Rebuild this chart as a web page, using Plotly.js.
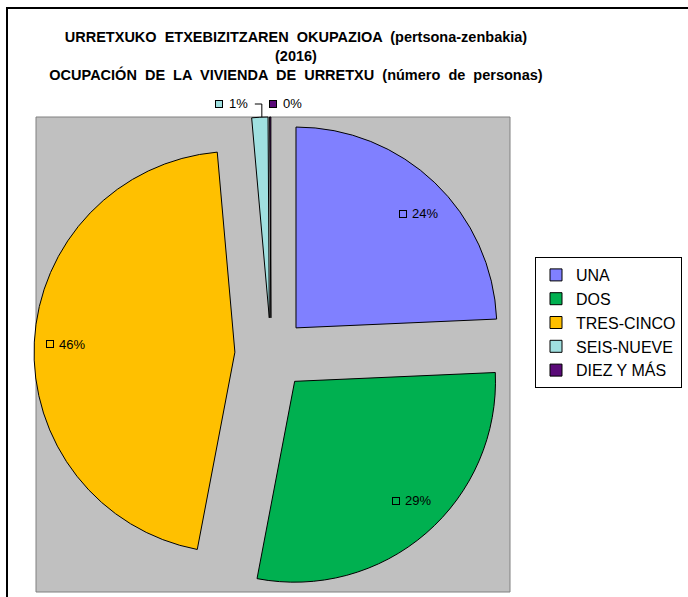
<!DOCTYPE html>
<html>
<head>
<meta charset="utf-8">
<script src="https://cdn.plot.ly/plotly-3.0.1.min.js"></script>
<style>html,body{margin:0;padding:0;background:#fff;}#chart{width:688px;height:597px;}</style>
</head>
<body>
<div id="chart"></div>
<script>
const categories = ["UNA", "DOS", "TRES-CINCO", "SEIS-NUEVE", "DIEZ Y MÁS"];
const shares = [24.3, 28.7, 45.6, 1.3, 0.1];
const sliceColors = ["#8080FF", "#00B050", "#FFC000", "#A0E0E0", "#5A0A78"];
const labelOutside = [false, false, false, true, true];
const titleText = "URRETXUKO  ETXEBIZITZAREN  OKUPAZIOA  (pertsona-zenbakia)<br>(2016)<br>OCUPACIÓN  DE  LA  VIVIENDA  DE  URRETXU  (número  de  personas)";

const W = 688, H = 597;
const px = x => x / W;
const py = y => 1 - y / H;

// pie geometry (layout)
const dom = { x0: 34, x1: 508, y0: 117, y1: 591 };
const pullFrac = 0.18;
const cx = (dom.x0 + dom.x1) / 2, cy = (dom.y0 + dom.y1) / 2;
const R = Math.min(dom.x1 - dom.x0, dom.y1 - dom.y0) / 2 / (1 + pullFrac);
const edge = R * (1 + pullFrac);

const trace = {
  type: "pie",
  labels: categories,
  values: shares,
  sort: false,
  direction: "clockwise",
  rotation: 0,
  pull: categories.map(() => pullFrac),
  marker: { colors: sliceColors, line: { color: "#000", width: 1 } },
  textinfo: "none",
  domain: { x: [px(dom.x0), px(dom.x1)], y: [py(dom.y1), py(dom.y0)] },
  hoverinfo: "label+percent"
};

const lblFont = { family: "Liberation Sans, Arial, sans-serif", size: 13, color: "#000" };
const annotations = [];
const shapes = [
  { type: "rect", xref: "paper", yref: "paper", layer: "below",
    x0: px(36), x1: px(510), y0: py(592), y1: py(117),
    fillcolor: "#C0C0C0", line: { color: "#808080", width: 1 } },
  { type: "rect", xref: "paper", yref: "paper", layer: "below",
    x0: px(7), x1: px(720), y0: py(630), y1: py(8),
    fillcolor: "rgba(0,0,0,0)", line: { color: "#000", width: 2 } }
];

function keySquare(xRight, y, color) {
  annotations.push({
    xref: "paper", yref: "paper", showarrow: false,
    x: px(xRight), y: py(y), xanchor: "right", yanchor: "middle",
    text: " ", font: { size: 1 }, width: 6, height: 6,
    bgcolor: color, bordercolor: "#000", borderwidth: 1, borderpad: 0
  });
}
function pctText(x, y, anchor, txt) {
  annotations.push({
    xref: "paper", yref: "paper", showarrow: false,
    x: px(x), y: py(y), xanchor: anchor, yanchor: "middle",
    text: txt, font: lblFont
  });
}

const total = shares.reduce((a, b) => a + b, 0);
let cum = 0;
shares.forEach((v, i) => {
  const a0 = cum / total * 2 * Math.PI;
  cum += v;
  const a1 = cum / total * 2 * Math.PI;
  const mid = (a0 + a1) / 2;
  const pct = Math.round(v / total * 100) + "%";
  if (!labelOutside[i]) {
    const r = R * pullFrac + R * 0.86;
    const tx = cx + Math.sin(mid) * r + 10;
    const ty = cy - Math.cos(mid) * r * 0.93;
    pctText(tx, ty, "center", pct);
    keySquare(tx - 18, ty, sliceColors[i]);
  } else {
    const mx = cx + Math.sin(mid) * edge;
    const topY = cy - edge;
    const ly = topY - 13;
    if (i === 3) {
      const textRight = mx - 10;
      pctText(textRight, ly, "right", pct);
      keySquare(textRight - 27, ly, sliceColors[i]);
      shapes.push({
        type: "path", xref: "paper", yref: "paper",
        path: `M ${px(textRight + 5)} ${py(ly)} L ${px(mx + 2)} ${py(ly)} L ${px(mx + 2)} ${py(topY)}`,
        line: { color: "#000", width: 1 }
      });
    } else {
      const sqLeft = mx;
      keySquare(sqLeft + 7, ly, sliceColors[i]);
      pctText(sqLeft + 11, ly, "left", pct);
    }
  }
});

const layout = {
  width: W, height: H,
  margin: { l: 0, r: 0, t: 0, b: 0 },
  paper_bgcolor: "#fff",
  showlegend: true,
  title: {
    text: titleText,
    x: px(296), xanchor: "center", xref: "paper",
    y: py(42), yanchor: "top", yref: "paper",
    font: { family: "Liberation Sans, Arial, sans-serif", size: 14.5, color: "#000", weight: "bold" }
  },
  legend: {
    x: px(535), xanchor: "left", y: py(257), yanchor: "top",
    bordercolor: "#000", borderwidth: 1, bgcolor: "#fff",
    font: { family: "Liberation Sans, Arial, sans-serif", size: 16, color: "#000" },
    traceorder: "normal"
  },
  annotations,
  shapes
};

Plotly.newPlot("chart", [trace], layout, { displayModeBar: false, staticPlot: true });
</script>
</body>
</html>
